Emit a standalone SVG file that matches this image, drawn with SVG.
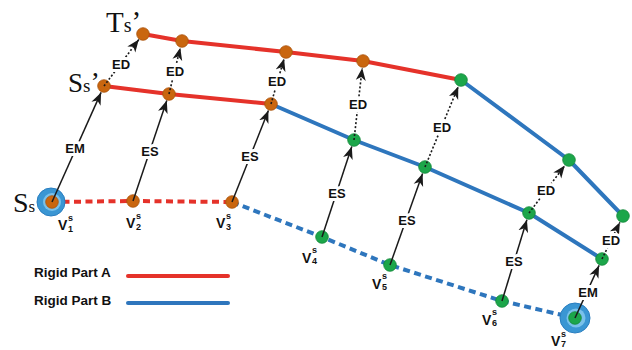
<svg xmlns="http://www.w3.org/2000/svg" width="632" height="350" viewBox="0 0 632 350">
<style>
.ra{fill:none;stroke:#e5322a;stroke-width:4;stroke-linecap:round;stroke-linejoin:round}
.rb{fill:none;stroke:#2e76bd;stroke-width:4;stroke-linecap:round;stroke-linejoin:round}
.dash{stroke-dasharray:7 4.5;stroke-linecap:butt}
.or{fill:#c9660f;stroke:#a9530b;stroke-width:0.8}
.gr{fill:#1ca64a;stroke:#14883a;stroke-width:0.8}
.ring{fill:#3a96d3;stroke:#2a7ec0;stroke-width:1}
.ringin{fill:#79c1ea}
.arr{stroke:#1a1a1a;stroke-width:1.5;fill:none;marker-end:url(#ah)}
.dot{stroke:#1a1a1a;stroke-width:1.6;fill:none;stroke-dasharray:2 2;marker-end:url(#ah)}
.lbl{font-family:"Liberation Sans",Arial,sans-serif;font-weight:bold;font-size:13px;fill:#111;text-anchor:middle;paint-order:stroke;stroke:#fff;stroke-width:6;stroke-linejoin:round}
.vt{font-family:"Liberation Sans",Arial,sans-serif;font-weight:bold;fill:#111}
.big{font-family:"Liberation Serif","Times New Roman",serif;fill:#111}
.leg{font-family:"Liberation Sans",Arial,sans-serif;font-weight:bold;font-size:13.5px;fill:#111}
</style>
<defs>
<marker id="ah" markerUnits="userSpaceOnUse" markerWidth="14" markerHeight="12" refX="12.5" refY="5.5" orient="auto">
<path d="M0,0.5 L12.5,5.5 L0,10.5 L3.5,5.5 Z" fill="#1a1a1a"/>
</marker>
</defs>
<rect width="632" height="350" fill="#fff"/>
<g id="rigid-lines">
<polyline class="ra" points="143,34 182,41 286,52 363,61 461,80"/>
<polyline class="ra" points="104,86 169,94 271,104"/>
<polyline class="rb" points="271,104 354,140 425,167 529,213 602,259"/>
<polyline class="rb" points="461,80 569,160 623,216"/>
<polyline class="ra dash" points="51,202 133,201 232,202"/>
<polyline class="rb dash" points="232,202 322,237 390,265 502,301 575,318"/>
</g>
<g id="v1">
<circle class="ring" cx="51" cy="202" r="14"/>
<circle class="ringin" cx="52" cy="202" r="9"/>
<circle class="or" cx="52" cy="202" r="6.3"/>
<text class="vt" x="58" y="230" font-size="14">V</text>
<text class="vt" x="68" y="221" font-size="9">s</text>
<text class="vt" x="68" y="232" font-size="9">1</text>
<text class="big" x="13" y="212" font-size="28">S<tspan font-size="17">s</tspan></text>
</g>
<g id="v2">
<circle class="or" cx="133" cy="201" r="6.3"/>
<text class="vt" x="126" y="228" font-size="14">V</text>
<text class="vt" x="136" y="219" font-size="9">s</text>
<text class="vt" x="136" y="230" font-size="9">2</text>
</g>
<g id="v3">
<circle class="or" cx="232" cy="202" r="6.3"/>
<text class="vt" x="216" y="228" font-size="14">V</text>
<text class="vt" x="226" y="219" font-size="9">s</text>
<text class="vt" x="226" y="230" font-size="9">3</text>
</g>
<g id="v4">
<circle class="gr" cx="322" cy="237" r="6.3"/>
<text class="vt" x="302" y="263" font-size="14">V</text>
<text class="vt" x="312" y="253" font-size="9">s</text>
<text class="vt" x="312" y="264" font-size="9">4</text>
</g>
<g id="v5">
<circle class="gr" cx="390" cy="265" r="6.3"/>
<text class="vt" x="372" y="289" font-size="14">V</text>
<text class="vt" x="382" y="279" font-size="9">s</text>
<text class="vt" x="382" y="290" font-size="9">5</text>
</g>
<g id="v6">
<circle class="gr" cx="502" cy="301" r="6.3"/>
<text class="vt" x="482" y="325" font-size="14">V</text>
<text class="vt" x="492" y="315" font-size="9">s</text>
<text class="vt" x="492" y="326" font-size="9">6</text>
</g>
<g id="v7">
<circle class="ring" cx="575" cy="318" r="15"/>
<circle class="ringin" cx="576" cy="318" r="9.5"/>
<circle class="gr" cx="575" cy="318" r="6.3"/>
<text class="vt" x="551" y="346" font-size="14">V</text>
<text class="vt" x="561" y="337" font-size="9">s</text>
<text class="vt" x="561" y="347" font-size="9">7</text>
</g>
<g id="m1">
<circle class="or" cx="104" cy="86" r="6.3"/>
<text class="big" x="68" y="92" font-size="27">S<tspan font-size="19">s</tspan><tspan font-size="28" dy="-1">’</tspan></text>
</g>
<g id="m2"><circle class="or" cx="169" cy="94" r="6.3"/></g>
<g id="m3"><circle class="or" cx="271" cy="104" r="6.3"/></g>
<g id="m4"><circle class="gr" cx="354" cy="140" r="6.3"/></g>
<g id="m5"><circle class="gr" cx="425" cy="167" r="6.3"/></g>
<g id="m6"><circle class="gr" cx="529" cy="213" r="6.3"/></g>
<g id="m7"><circle class="gr" cx="602" cy="259" r="6.3"/></g>
<g id="t1">
<circle class="or" cx="143" cy="34" r="6.3"/>
<text class="big" x="106" y="32" font-size="29">T<tspan font-size="20">s</tspan><tspan font-size="29" dy="-1">’</tspan></text>
</g>
<g id="t2"><circle class="or" cx="182" cy="41" r="6.3"/></g>
<g id="t3"><circle class="or" cx="286" cy="52" r="6.3"/></g>
<g id="t4"><circle class="or" cx="363" cy="61" r="6.3"/></g>
<g id="t5"><circle class="gr" cx="461" cy="80" r="6.3"/></g>
<g id="t6"><circle class="gr" cx="569" cy="160" r="6.3"/></g>
<g id="t7"><circle class="gr" cx="623" cy="216" r="6.3"/></g>
<g id="connectors">
<line class="arr" x1="52" y1="202" x2="101.1" y2="92.4"/>
<line class="arr" x1="133" y1="201" x2="166.8" y2="100.6"/>
<line class="arr" x1="232" y1="202" x2="268.4" y2="110.5"/>
<line class="arr" x1="322" y1="237" x2="351.8" y2="146.6"/>
<line class="arr" x1="390" y1="265" x2="422.6" y2="173.6"/>
<line class="arr" x1="502" y1="301" x2="526.9" y2="219.7"/>
<line class="arr" x1="575" y1="318" x2="599.1" y2="265.4"/>
<line class="dot" x1="104" y1="86" x2="138.8" y2="39.6"/>
<line class="dot" x1="169" y1="94" x2="180.3" y2="47.8"/>
<line class="dot" x1="271" y1="104" x2="284.1" y2="58.7"/>
<line class="dot" x1="354" y1="140" x2="362.2" y2="68"/>
<line class="dot" x1="425" y1="167" x2="458.3" y2="86.5"/>
<line class="dot" x1="529" y1="213" x2="564.8" y2="165.6"/>
<line class="dot" x1="602" y1="259" x2="619.9" y2="222.3"/>
<text class="lbl" x="75" y="152.5">EM</text>
<text class="lbl" x="150" y="156">ES</text>
<text class="lbl" x="250" y="161">ES</text>
<text class="lbl" x="337" y="197.5">ES</text>
<text class="lbl" x="407" y="224.5">ES</text>
<text class="lbl" x="514" y="265.5">ES</text>
<text class="lbl" x="588" y="296.5">EM</text>
<text class="lbl" x="121" y="68.5">ED</text>
<text class="lbl" x="175" y="75.5">ED</text>
<text class="lbl" x="277" y="85.5">ED</text>
<text class="lbl" x="358" y="108.5">ED</text>
<text class="lbl" x="442" y="131.5">ED</text>
<text class="lbl" x="546" y="194.5">ED</text>
<text class="lbl" x="611" y="244.5">ED</text>
</g>
<g id="legend">
<text class="leg" x="34" y="277">Rigid Part A</text>
<line class="ra" x1="128" y1="276" x2="228" y2="276"/>
<text class="leg" x="34" y="305">Rigid Part B</text>
<line class="rb" x1="128" y1="303" x2="228" y2="303"/>
</g>
</svg>
